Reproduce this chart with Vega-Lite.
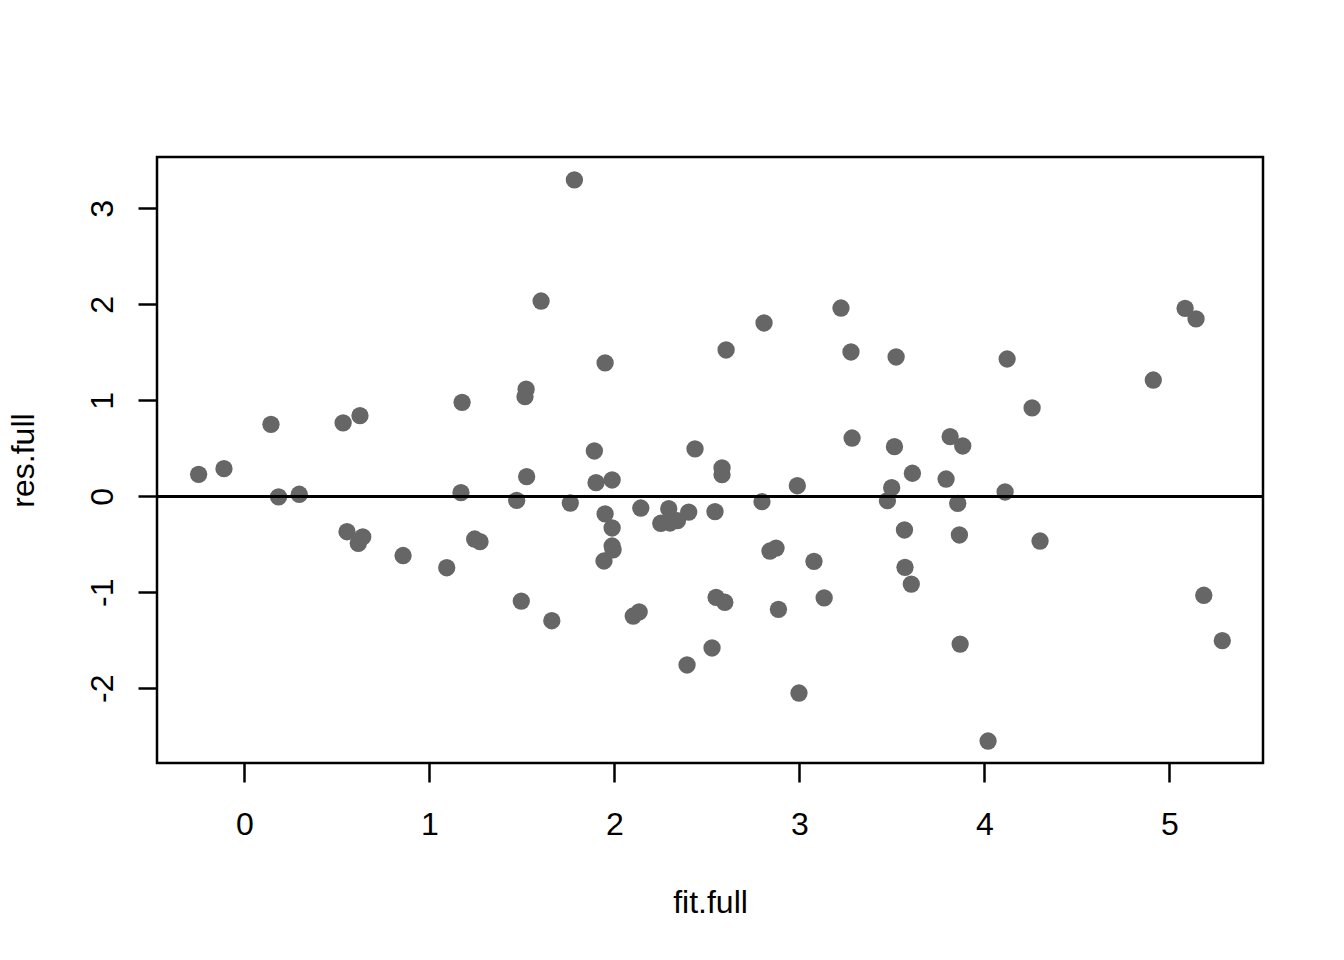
{
  "$schema": "https://vega.github.io/schema/vega-lite/v6.json",
  "width": 1106,
  "height": 606,
  "autosize": {"type": "none"},
  "padding": {"left": 157, "top": 157, "right": 81, "bottom": 197},
  "background": "white",
  "config": {
    "view": {"stroke": "black", "strokeWidth": 2.5},
    "font": "Liberation Sans",
    "axis": {
      "grid": false,
      "domain": false,
      "tickColor": "black",
      "tickWidth": 2.5,
      "tickSize": 19,
      "labelFont": "Liberation Sans",
      "labelFontSize": 32,
      "labelColor": "black",
      "titleFont": "Liberation Sans",
      "titleFontSize": 32,
      "titleFontWeight": "normal",
      "titleColor": "black"
    }
  },
  "data": {
    "values": [
      {"fit": -0.247, "res": 0.229}, {"fit": -0.110, "res": 0.288}, {"fit": 0.144, "res": 0.750},
      {"fit": 0.185, "res": -0.007}, {"fit": 0.297, "res": 0.021}, {"fit": 0.534, "res": 0.764},
      {"fit": 0.555, "res": -0.369}, {"fit": 0.616, "res": -0.490}, {"fit": 0.625, "res": 0.840},
      {"fit": 0.640, "res": -0.424}, {"fit": 0.858, "res": -0.617}, {"fit": 1.094, "res": -0.744},
      {"fit": 1.177, "res": 0.979}, {"fit": 1.171, "res": 0.038}, {"fit": 1.245, "res": -0.445},
      {"fit": 1.274, "res": -0.473}, {"fit": 1.472, "res": -0.042}, {"fit": 1.497, "res": -1.091},
      {"fit": 1.517, "res": 1.038}, {"fit": 1.523, "res": 1.115}, {"fit": 1.526, "res": 0.204},
      {"fit": 1.604, "res": 2.034}, {"fit": 1.662, "res": -1.296}, {"fit": 1.762, "res": -0.070},
      {"fit": 1.784, "res": 3.295}, {"fit": 1.892, "res": 0.472}, {"fit": 1.901, "res": 0.142},
      {"fit": 1.950, "res": 1.389}, {"fit": 1.950, "res": -0.184}, {"fit": 1.944, "res": -0.674},
      {"fit": 1.988, "res": 0.170}, {"fit": 1.988, "res": -0.330}, {"fit": 1.988, "res": -0.518},
      {"fit": 1.993, "res": -0.559}, {"fit": 2.102, "res": -1.247}, {"fit": 2.134, "res": -1.205},
      {"fit": 2.143, "res": -0.122}, {"fit": 2.251, "res": -0.281}, {"fit": 2.294, "res": -0.129},
      {"fit": 2.301, "res": -0.278}, {"fit": 2.341, "res": -0.254}, {"fit": 2.402, "res": -0.164},
      {"fit": 2.393, "res": -1.757}, {"fit": 2.436, "res": 0.493}, {"fit": 2.528, "res": -1.580},
      {"fit": 2.544, "res": -0.160}, {"fit": 2.550, "res": -1.052}, {"fit": 2.582, "res": 0.295},
      {"fit": 2.582, "res": 0.225}, {"fit": 2.597, "res": -1.104}, {"fit": 2.604, "res": 1.524},
      {"fit": 2.798, "res": -0.056}, {"fit": 2.809, "res": 1.805}, {"fit": 2.841, "res": -0.570},
      {"fit": 2.874, "res": -0.539}, {"fit": 2.887, "res": -1.177}, {"fit": 2.989, "res": 0.110},
      {"fit": 2.998, "res": -2.049}, {"fit": 3.079, "res": -0.677}, {"fit": 3.134, "res": -1.059},
      {"fit": 3.225, "res": 1.961}, {"fit": 3.279, "res": 1.503}, {"fit": 3.285, "res": 0.607},
      {"fit": 3.476, "res": -0.046}, {"fit": 3.499, "res": 0.090}, {"fit": 3.514, "res": 0.517},
      {"fit": 3.523, "res": 1.451}, {"fit": 3.568, "res": -0.351}, {"fit": 3.571, "res": -0.740},
      {"fit": 3.605, "res": -0.914}, {"fit": 3.611, "res": 0.240}, {"fit": 3.793, "res": 0.180},
      {"fit": 3.815, "res": 0.621}, {"fit": 3.856, "res": -0.073}, {"fit": 3.865, "res": -0.403},
      {"fit": 3.869, "res": -1.539}, {"fit": 3.883, "res": 0.524}, {"fit": 4.020, "res": -2.549},
      {"fit": 4.112, "res": 0.045}, {"fit": 4.123, "res": 1.430}, {"fit": 4.258, "res": 0.920},
      {"fit": 4.301, "res": -0.466}, {"fit": 4.913, "res": 1.211}, {"fit": 5.085, "res": 1.958},
      {"fit": 5.144, "res": 1.847}, {"fit": 5.186, "res": -1.031}, {"fit": 5.286, "res": -1.504}
    ]
  },
  "layer": [
    {
      "mark": {"type": "circle", "color": "#666666", "opacity": 1, "size": 300, "strokeWidth": 0},
      "encoding": {
        "x": {
          "field": "fit", "type": "quantitative",
          "scale": {"domain": [-0.472, 5.506], "nice": false, "zero": false},
          "axis": {
            "title": "fit.full",
            "values": [0, 1, 2, 3, 4, 5],
            "labelExpr": "'' + datum.value",
            "labelBaseline": "alphabetic",
            "labelPadding": 52,
            "labelFlush": false,
            "labelOverlap": false,
            "titleBaseline": "alphabetic",
            "titleAlign": "center",
            "titleX": 553,
            "titleY": 149
          }
        },
        "y": {
          "field": "res", "type": "quantitative",
          "scale": {"domain": [-2.778, 3.534], "nice": false, "zero": false},
          "axis": {
            "title": "res.full",
            "values": [-2, -1, 0, 1, 2, 3],
            "labelExpr": "'' + datum.value",
            "labelAngle": -90,
            "labelAlign": "center",
            "labelBaseline": "alphabetic",
            "labelPadding": 26,
            "labelFlush": false,
            "labelOverlap": false,
            "titleAngle": -90,
            "titleAlign": "center",
            "titleBaseline": "alphabetic",
            "titleX": -124,
            "titleY": 303
          }
        }
      }
    },
    {
      "mark": {"type": "rule", "color": "black", "strokeWidth": 2.5},
      "encoding": {"y": {"datum": 0, "type": "quantitative"}}
    }
  ]
}
